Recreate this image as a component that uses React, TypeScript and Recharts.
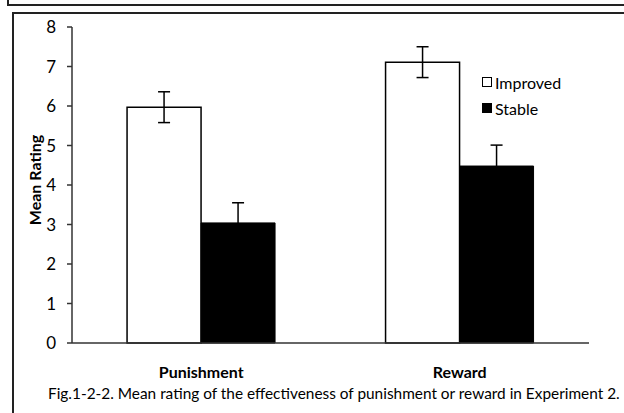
import React from "react"
import { BarChart, Bar, XAxis, YAxis, ErrorBar, Legend } from "recharts"

// values
const categories = ["Punishment", "Reward"]
const improved = [5.97, 7.11]
const improvedErr = [0.39, 0.39]
const stable = [3.04, 4.48]
const stableErr = [0.51, 0.53]
const yTicks = [0, 1, 2, 3, 4, 5, 6, 7, 8]
const seriesNames = ["Improved", "Stable"]

const FONT = "Lato, 'Open Sans', sans-serif"

const data = categories.map((c, i) => ({
  name: c,
  improved: improved[i],
  improvedErr: improvedErr[i],
  stable: stable[i],
  stableErr: stableErr[i],
}))

function LegendBox() {
  const fills = ["#fff", "#000"]
  return (
    <div style={{ fontFamily: FONT, fontSize: 16, color: "#000" }}>
      {seriesNames.map((n, i) => (
        <div key={n} style={{ display: "flex", alignItems: "center", height: 26 }}>
          <span
            style={{
              display: "inline-block",
              width: 8,
              height: 8,
              border: "1.5px solid #000",
              background: fills[i],
              marginRight: 3,
            }}
          />
          <span>{n}</span>
        </div>
      ))}
    </div>
  )
}

function YLabel(props: any) {
  const vb = props.viewBox
  const cx = 34
  const cy = vb.y + vb.height / 2 - 5
  return (
    <text
      x={cx}
      y={cy}
      transform={`rotate(-90 ${cx} ${cy})`}
      textAnchor="middle"
      dominantBaseline="central"
      style={{ fontFamily: FONT, fontSize: 16, fontWeight: 700, fill: "#000" }}
    >
      Mean Rating
    </text>
  )
}

export default function App() {
  return (
    <div style={{ position: "fixed", left: 0, top: 0, width: 624, height: 413, background: "#fff", overflow: "hidden" }}>
      {/* previous box edge */}
      <div style={{ position: "absolute", left: 7, top: -4, right: -4, height: 8, borderLeft: "2px solid #222", borderBottom: "2px solid #222" }} />
      {/* figure frame */}
      <div style={{ position: "absolute", left: 12, top: 12, right: -4, bottom: -4, borderLeft: "2px solid #222", borderTop: "2px solid #222" }} />

      <div style={{ position: "absolute", left: 0, top: 0 }}>
        <BarChart
          width={624}
          height={413}
          data={data}
          margin={{ top: 27, right: 35, bottom: 40, left: 32 }}
          barCategoryGap="21.3%"
          barGap={0}
        >
          <XAxis
            dataKey="name"
            tickLine={false}
            tickSize={0}
            tickMargin={24}
            height={30}
            axisLine={{ stroke: "#333", strokeWidth: 1.5 }}
            tick={{ fontFamily: FONT, fontSize: 16, fontWeight: 700, fill: "#000" }}
          />
          <YAxis
            width={40}
            domain={[0, 8]}
            ticks={yTicks}
            interval={0}
            tickSize={5}
            tickMargin={11}
            axisLine={{ stroke: "#333", strokeWidth: 1.5 }}
            tickLine={{ stroke: "#333", strokeWidth: 1.5 }}
            tick={{ fontFamily: FONT, fontSize: 17, fill: "#000" }}
            label={<YLabel />}
          />
          <Legend
            verticalAlign="middle"
            layout="horizontal"
            content={<LegendBox />}
            wrapperStyle={{ left: 482, top: 69, width: 130 }}
          />
          <Bar dataKey="improved" name="Improved" fill="#fff" stroke="#000" strokeWidth={1.5} isAnimationActive={false}>
            <ErrorBar dataKey="improvedErr" width={6} stroke="#000" strokeWidth={1.5} direction="y" isAnimationActive={false} />
          </Bar>
          <Bar dataKey="stable" name="Stable" fill="#000" stroke="#000" strokeWidth={1} isAnimationActive={false}>
            <ErrorBar dataKey="stableErr" width={6} stroke="#000" strokeWidth={1.5} direction="y" isAnimationActive={false} />
          </Bar>
        </BarChart>
      </div>

      <div
        style={{
          position: "absolute",
          left: 48,
          top: 384,
          whiteSpace: "nowrap",
          fontFamily: FONT,
          fontSize: 15.4,
          color: "#000",
        }}
      >
        Fig.1-2-2. Mean rating of the effectiveness of punishment or reward in Experiment 2.
      </div>
    </div>
  )
}
